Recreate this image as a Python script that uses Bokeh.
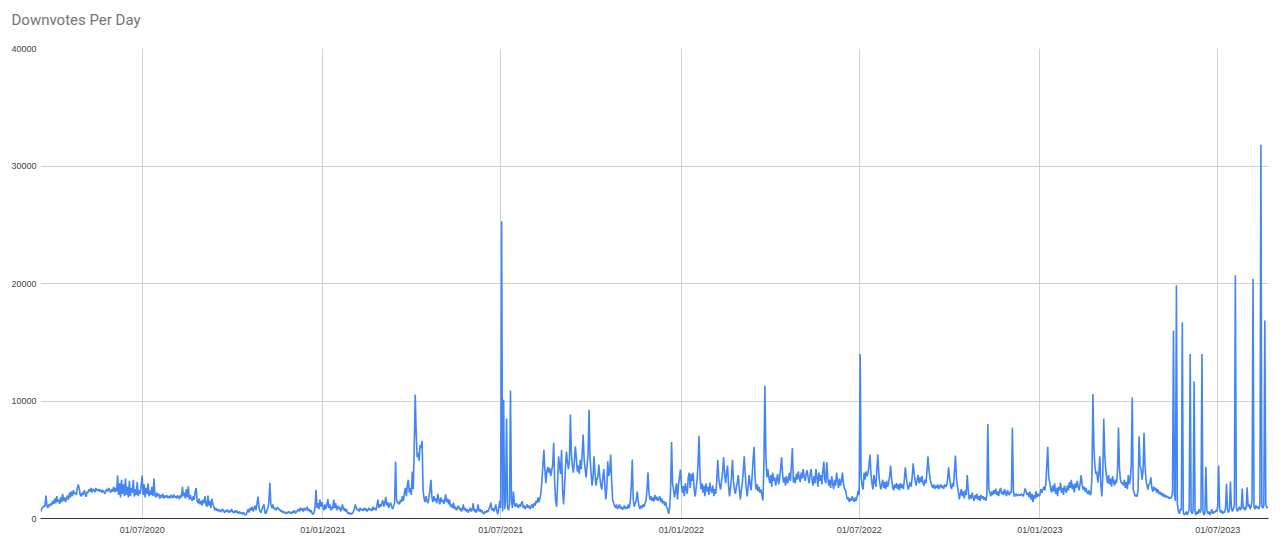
import pandas as pd
from bokeh.plotting import figure
from bokeh.models import Range1d, FixedTicker, DatetimeTickFormatter, NumeralTickFormatter, ColumnDataSource, Title
from bokeh.embed import file_html
from bokeh.resources import INLINE

# Daily downvotes, split into half-year blocks (each block starts at its date)
start_2020a = "2020-03-20"
vals_2020a = [
    600, 900, 950, 1100, 1000, 1960, 1100, 900, 1200, 1050,
    1300, 1150, 1500, 1250, 1700, 1300, 1900, 1400, 1600, 1250,
    1800, 1400, 2100, 1500, 1800, 1400, 1700, 1950, 1600, 2200,
    1800, 2300, 1900, 2400, 2100, 2200, 2000, 2600, 2900, 2500,
    2000, 1900, 2200, 2000, 2400, 2100, 1850, 2300, 2200, 2500,
    2300, 2600, 2200, 2500, 2400, 2250, 2600, 2400, 2350, 2500,
    2300, 2450, 2200, 2400, 2300, 2100, 2350, 2500, 2300, 2600,
    2400, 2200, 2500, 2300, 2700, 2250, 2600, 2300, 3650, 2000,
    3000, 1800, 3300, 2100, 2900, 1900, 3400, 2000, 2700, 1800,
    3200, 1900, 2600, 2200, 3300, 1850, 2500, 2000, 3100, 1900,
    2400, 2100, 2800,
]
start_2020b = "2020-07-01"
vals_2020b = [
    3650, 2000, 2900, 1800, 2600, 2100, 3000, 1900, 2400, 2000,
    2700, 1900, 3400, 2000, 1800, 2200, 1900, 2100, 1700, 2000,
    1800, 2100, 1700, 1950, 1800, 2000, 1750, 1900, 1700, 2000,
    1850, 1750, 2050, 1800, 1900, 1700, 1950, 1850, 1650, 2000,
    1800, 2700, 1900, 2200, 1700, 2500, 1800, 2750, 1600, 2000,
    1700, 1500, 1900, 1600, 2300, 2600, 1500, 1300, 1700, 1200,
    1500, 1100, 1600, 1300, 1900, 1200, 1000, 1950, 1100, 1500,
    900, 1700, 1200, 1000, 700, 900, 650, 800, 600, 750,
    550, 700, 800, 600, 500, 700, 600, 750, 500, 650,
    550, 800, 600, 450, 650, 500, 700, 550, 400, 600,
    450, 500, 350, 550, 400, 300, 350, 600, 800, 500,
    900, 700, 1000, 600, 850, 1100, 700, 1300, 1870, 900,
    600, 500, 800, 1000, 1200, 500, 400, 700, 900, 1400,
    3050, 1200, 900, 1190, 800, 900, 700, 850, 950, 750,
    800, 600, 700, 500, 600, 450, 550, 400, 500, 600,
    450, 550, 400, 600, 500, 700, 450, 550, 650, 800,
    600, 900, 700, 850, 600, 900, 700, 800, 1000, 650,
    800, 550, 700, 450, 350, 500, 1000, 2450, 900, 1300,
    800, 1600, 1000, 1400,
]
start_2021a = "2021-01-01"
vals_2021a = [
    1000, 700, 1200, 800, 1100, 1650, 900, 1200, 700, 1000,
    800, 1600, 900, 1300, 700, 1100, 800, 1000, 600, 900,
    1200, 700, 900, 600, 800, 500, 400, 500, 350, 450,
    400, 600, 800, 1200, 900, 700, 800, 600, 900, 700,
    800, 650, 900, 700, 850, 600, 750, 900, 700, 800,
    650, 1000, 750, 900, 700, 1100, 1600, 900, 1200, 1000,
    1300, 1550, 1000, 1300, 1850, 1100, 1400, 900, 1200, 1350,
    1000, 800, 1100, 1300, 4850, 1600, 1300, 1400, 1200, 1600,
    1400, 1900, 1500, 2200, 2600, 1900, 2800, 3300, 2200, 2600,
    2000, 4000, 2500, 6000, 10550, 7300, 5200, 5600, 4900, 6250,
    6000, 6600, 2450, 1700, 1400, 1900, 1500, 1300, 1800, 2400,
    3300, 1800, 1400, 1900, 1500, 1700, 1300, 2100, 1600, 1200,
    1800, 1400, 1600, 1250, 1500, 2050, 1400, 1700, 1200, 1600,
    1000, 1200, 900, 1350, 800, 1000, 700, 900, 1100, 750,
    900, 600, 800, 1200, 700, 900, 600, 800, 500, 700,
    900, 600, 750, 1300, 600, 800, 500, 700, 1200, 600,
    800, 550, 700, 450, 400, 600, 500, 700, 550, 800,
    1000, 1350, 700, 900, 600, 800, 1200, 700, 350, 800,
    1500,
]
start_2021b = "2021-07-01"
vals_2021b = [
    900, 25300, 600, 10100, 800, 1500, 8500, 1000, 700, 1200,
    10900, 1500, 900, 2300, 1200, 1000, 1300, 1100, 900, 1200,
    1000, 1300, 1450, 900, 1100, 800, 1000, 1200, 900, 1100,
    800, 1000, 1200, 900, 1300, 1100, 1500, 1300, 1800, 1400,
    1700, 2200, 3200, 4500, 5850, 4200, 3000, 4000, 4400, 3900,
    4300, 3600, 4100, 4600, 6450, 3000, 1500, 1000, 3000, 5300,
    4500, 3800, 5850, 2500, 1200, 2600, 4400, 5700, 4800, 4200,
    5000, 8850, 5500, 4500, 3900, 4800, 6150, 5200, 4000, 4500,
    3800, 5000, 4200, 5500, 7150, 5000, 4200, 3500, 4500, 5500,
    9250, 5200, 3900, 2800, 3400, 5300, 4000, 2800, 3300, 3600,
    4600, 3500, 2800, 2470, 3500, 4200, 2900, 1620, 2500, 4870,
    3600, 4000, 5450, 3200, 1600, 1300, 1100, 900, 1200, 800,
    1000, 1190, 850, 1000, 750, 900, 1100, 800, 1000, 850,
    1200, 900, 1500, 2800, 5020, 1600, 1000, 1300, 1500, 2300,
    1500, 1000, 800, 1100, 900, 1200, 1000, 1300, 1500, 2500,
    3940, 2200, 1600, 1900, 1500, 1800, 1450, 2000, 1600, 1850,
    1500, 1700, 1900, 1400, 1700, 1300, 1500, 1100, 1400, 1000,
    800, 400, 900, 2500, 6500, 3000, 2470, 1800, 2400, 3000,
    1620, 2800, 3500, 4170,
]
start_2022a = "2022-01-01"
vals_2022a = [
    2900, 2200, 2750, 1900, 3000, 2500, 2100, 3500, 3900, 2600,
    3800, 3200, 3900, 2500, 1870, 2600, 3300, 4800, 7050, 3500,
    2470, 3000, 2200, 2800, 1900, 3000, 2300, 2700, 2000, 3060,
    2400, 2200, 2800, 1900, 2500, 2100, 3200, 5000, 3500, 2800,
    2470, 3300, 4000, 5200, 3800, 3000, 3900, 4500, 2800, 1870,
    2600, 3500, 5000, 3200, 2500, 2100, 2700, 3100, 3700, 2500,
    1620, 2400, 3000, 4000, 5300, 3800, 2600, 1870, 2700, 3700,
    2900, 2400, 3600, 5000, 6100, 3500, 2470, 2900, 2300, 2700,
    2200, 2470, 2000, 1540, 4500, 11300, 5500, 3500, 4200, 3500,
    3000, 3700, 2700, 3900, 3200, 3500, 2800, 3300, 3800, 2900,
    3400, 4200, 5200, 3800, 3060, 3500, 2800, 3600, 3000, 3300,
    3900, 3200, 4500, 6000, 3060, 3500, 3000, 3800, 3300, 4000,
    3500, 3100, 3900, 3400, 4200, 3600, 3200, 3800, 4100, 3500,
    3000, 3700, 4200, 3300, 2800, 3600, 3000, 4200, 3500, 2700,
    3900, 3200, 3700, 2900, 4000, 4850, 3300, 3000, 4800, 3500,
    2800, 3300, 2600, 3600, 3000, 2500, 3300, 2800, 3900, 3200,
    2600, 3400, 2800, 3200, 3900, 3000, 2500, 2470, 2000, 1600,
    1800, 1400, 1700, 1500, 1900, 1600, 1400, 1800, 1500, 1900,
    2400,
]
start_2022b = "2022-07-01"
vals_2022b = [
    2000, 14000, 3500, 2800, 2470, 3900, 3300, 4000, 3600, 3900,
    4500, 5450, 3800, 3000, 2470, 3700, 3100, 2700, 4200, 5450,
    3800, 3000, 2470, 2900, 3300, 2600, 3100, 2500, 3200, 2700,
    3000, 3600, 4500, 3400, 2700, 2400, 2900, 2600, 3000, 2500,
    2900, 2400, 3000, 2600, 2900, 2500, 3300, 4350, 3500, 2900,
    2470, 2800, 3100, 2700, 3600, 4700, 3800, 3200, 2800, 3300,
    3700, 3000, 3500, 3100, 3600, 3000, 2800, 3300, 3000, 4000,
    5300, 4200, 3500, 3060, 2800, 2600, 2900, 2500, 2800, 2600,
    2900, 2500, 2700, 2900, 2600, 2800, 2500, 2900, 2700, 2800,
    3300, 4350, 3500, 2800, 2500, 3000, 2700, 4000, 5350, 3500,
    2800, 2300, 1620, 2100, 2500, 1900, 2300, 1700, 2400, 2000,
    3700, 2500, 1620, 2000, 1700, 2200, 1800, 1500, 2000, 1700,
    2100, 1600, 1900, 1500, 2000, 1700, 1900, 1600, 1800, 1500,
    2000, 8050, 2500, 2200, 1900, 2300, 2000, 2400, 2100, 2550,
    2000, 2300, 1900, 2400, 2600, 2100, 2300, 2000, 2500, 2200,
    1900, 2400, 2100, 2000, 2300, 2200, 7750, 2400, 1870, 2000,
    2100, 1900, 2050, 2000, 1950, 2100, 2000, 1900, 2200, 2550,
    2300, 2000, 2200, 1800, 2300, 1600, 2100, 1400, 2000, 1700,
    2300, 1800, 2100, 1900,
]
start_2023a = "2023-01-01"
vals_2023a = [
    2000, 2500, 2200, 2470, 2700, 2400, 2900, 4500, 6100, 3500,
    3060, 2500, 2200, 2800, 2300, 3000, 2100, 2600, 1900, 2700,
    2400, 3060, 2200, 2600, 2000, 2800, 2400, 2200, 2800, 2400,
    3100, 2600, 3300, 2500, 2900, 2200, 3000, 2600, 3200, 2700,
    2400, 3000, 3700, 2900, 2470, 2700, 2300, 2600, 2200, 2100,
    2400, 2000, 2100, 3500, 10600, 6000, 4500, 3800, 4000, 3060,
    3800, 5300, 3000, 1870, 3500, 8500, 5500, 4200, 3500, 3000,
    3700, 2900, 3400, 2700, 3600, 3100, 2800, 3300, 3000, 4000,
    7750, 4300, 3300, 3000, 3060, 2800, 3300, 2600, 3100, 2500,
    3700, 2900, 3300, 4500, 10300, 2470, 2200, 1900, 2000, 1870,
    2500, 7000, 4500, 4200, 3300, 4000, 7300, 4500, 3300, 2800,
    2470, 2900, 3000, 3500, 2600, 2300, 2700, 2400, 2600, 2200,
    2500, 2100, 2300, 2000, 2200, 1900, 2100, 1800, 2000, 1800,
    1900, 1700, 1800, 1700, 1800, 2200, 16000, 2000, 1500, 19850,
    1200, 600, 400, 800, 700, 16700, 500, 300, 400, 600,
    300, 500, 800, 14000, 600, 400, 700, 11650, 500, 300,
    600, 400, 800, 500, 700, 14000, 600, 300, 500, 4400,
    700, 400, 600, 300, 500, 800, 400, 600, 500, 700,
    600,
]
start_2023b = "2023-07-01"
vals_2023b = [
    1000, 4500, 800, 500, 700, 400, 600, 500, 900, 2950,
    700, 500, 800, 3150, 900, 600, 800, 1200, 20700, 900,
    600, 800, 1000, 700, 900, 2550, 800, 1000, 700, 900,
    2650, 1000, 1200, 800, 1000, 1500, 20400, 1000, 800, 1100,
    900, 1000, 800, 1200, 31800, 1000, 900, 1100, 16850, 1200,
    900, 1000,
]

tick_dates = ["2020-07-01", "2021-01-01", "2021-07-01", "2022-01-01",
              "2022-07-01", "2023-01-01", "2023-07-01"]
y_ticks = [0, 10000, 20000, 30000, 40000]
title_text = "Downvotes Per Day"

segments = [
    (start_2020a, vals_2020a), (start_2020b, vals_2020b),
    (start_2021a, vals_2021a), (start_2021b, vals_2021b),
    (start_2022a, vals_2022a), (start_2022b, vals_2022b),
    (start_2023a, vals_2023a), (start_2023b, vals_2023b),
]
frames = [pd.DataFrame({"date": pd.date_range(s, periods=len(v), freq="D"), "value": v})
          for s, v in segments]
df = pd.concat(frames, ignore_index=True)
source = ColumnDataSource(df)


def ms(s):
    return pd.Timestamp(s).timestamp() * 1000.0


p = figure(
    frame_width=1228, frame_height=470,
    x_axis_type="datetime",
    output_backend="svg", toolbar_location=None,
    x_range=Range1d(ms("2020-03-19 12:00"), ms("2023-08-21 18:00")),
    y_range=Range1d(0, 40000),
    min_border_left=40, min_border_right=12, min_border_top=48, min_border_bottom=20,
)
p.outline_line_color = None
p.background_fill_color = "white"
p.border_fill_color = "white"

# the built-in title is drawn outermost; a blank panel closer to the frame
# lifts it to the top-left of the chart
p.title.text = title_text
p.title.align = "left"
p.title.offset = -29
p.title.standoff = 0
p.title.text_font = "Roboto"
p.title.text_font_size = "15px"
p.title.text_font_style = "normal"
p.title.text_color = "#757575"

p.add_layout(Title(text=" ", text_font_size="10px", standoff=7), "above")

p.line(x="date", y="value", source=source, line_color="#4285F4", line_width=1.6)

xa = p.xaxis[0]
xa.ticker = FixedTicker(ticks=[ms(d) for d in tick_dates])
fmt = "%d/%m/%Y"
xa.formatter = DatetimeTickFormatter(
    microseconds=fmt, milliseconds=fmt, seconds=fmt, minsec=fmt, minutes=fmt,
    hourmin=fmt, hours=fmt, days=fmt, months=fmt, years=fmt)
xa.major_tick_line_color = None
xa.minor_tick_line_color = None
xa.major_tick_out = 0
xa.major_tick_in = 0
xa.minor_tick_out = 0
xa.minor_tick_in = 0
xa.axis_line_color = "#333333"
xa.major_label_text_font = "Liberation Sans"
xa.major_label_text_font_size = "9px"
xa.major_label_text_color = "#444444"
xa.major_label_standoff = 6

ya = p.yaxis[0]
ya.ticker = FixedTicker(ticks=y_ticks)
ya.formatter = NumeralTickFormatter(format="0")
ya.major_tick_line_color = None
ya.minor_tick_line_color = None
ya.major_tick_out = 0
ya.major_tick_in = 0
ya.minor_tick_out = 0
ya.minor_tick_in = 0
ya.axis_line_color = None
ya.major_label_text_font = "Liberation Sans"
ya.major_label_text_font_size = "9px"
ya.major_label_text_color = "#444444"
ya.major_label_standoff = 4

p.xgrid.grid_line_color = "#d0d0d0"
p.ygrid.grid_line_color = "#d0d0d0"

open("out.html", "w").write(file_html(p, INLINE))
